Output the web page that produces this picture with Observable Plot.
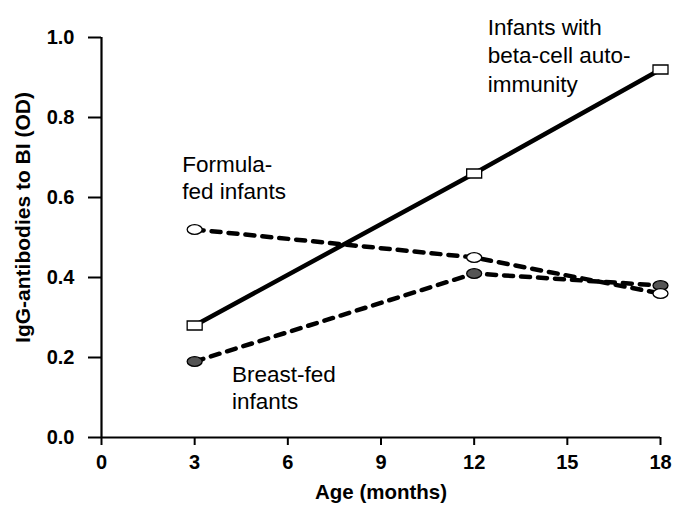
<!DOCTYPE html>
<html>
<head>
<meta charset="utf-8">
<script src="https://cdn.jsdelivr.net/npm/d3@7"></script>
<script src="https://cdn.jsdelivr.net/npm/@observablehq/plot@0.6"></script>
<style>
  html, body { margin: 0; padding: 0; background: #fff; }
  #chart svg { display: block; }
</style>
</head>
<body>
<div id="chart"></div>
<script>
// ---- data ----
const months = [3, 12, 18];
const autoimmunity = [0.28, 0.66, 0.92];
const formulaFed = [0.52, 0.45, 0.36];
const breastFed = [0.19, 0.41, 0.38];
const xTicks = [0, 3, 6, 9, 12, 15, 18];
const yTicks = [0, 0.2, 0.4, 0.6, 0.8, 1.0];
const xTitle = "Age (months)";
const yTitle = "IgG-antibodies to BI (OD)";
const labelAuto = "Infants with\nbeta-cell auto-\nimmunity";
const labelFormula = "Formula-\nfed infants";
const labelBreast = "Breast-fed\ninfants";

const rows = (vals) => months.map((m, i) => ({month: m, value: vals[i]}));
const autoRows = rows(autoimmunity);
const formulaRows = rows(formulaFed);
const breastRows = rows(breastFed);

// ---- custom symbols ----
const rectSymbol = { draw(ctx) { ctx.rect(-7.5, -4.5, 15, 9); } };
const ellipseSymbol = { draw(ctx) {
  const rx = 7.5, ry = 4.8, k = 0.5523;
  ctx.moveTo(rx, 0);
  ctx.bezierCurveTo(rx, ry * k, rx * k, ry, 0, ry);
  ctx.bezierCurveTo(-rx * k, ry, -rx, ry * k, -rx, 0);
  ctx.bezierCurveTo(-rx, -ry * k, -rx * k, -ry, 0, -ry);
  ctx.bezierCurveTo(rx * k, -ry, rx, -ry * k, rx, 0);
  ctx.closePath();
} };

const font = "'Liberation Sans', Arial, Helvetica, sans-serif";

const chart = Plot.plot({
  width: 684,
  height: 511,
  marginLeft: 101,
  marginRight: 24,
  marginTop: 37,
  marginBottom: 74,
  style: { fontFamily: font, background: "#fff", color: "#000" },
  x: { domain: [0, 18] },
  y: { domain: [0, 1] },
  marks: [
    Plot.axisX({ticks: xTicks, tickSize: 8, tickPadding: 9, strokeWidth: 2, fontSize: 20, fontWeight: "bold", label: null, tickFormat: d3.format("d")}),
    Plot.axisY({ticks: yTicks, tickSize: 13, tickPadding: 14, strokeWidth: 2, fontSize: 20, fontWeight: "bold", label: null, tickFormat: d3.format(".1f")}),
    Plot.ruleY([0], {x1: 0, x2: 18, strokeWidth: 2.2}),
    Plot.ruleX([0], {y1: 0, y2: 1, strokeWidth: 2.2}),
    // lines
    Plot.line(formulaRows, {x: "month", y: "value", stroke: "#000", strokeWidth: 4.5, strokeDasharray: "9,8", strokeLinecap: "round"}),
    Plot.line(breastRows, {x: "month", y: "value", stroke: "#000", strokeWidth: 4.5, strokeDasharray: "9,8", strokeLinecap: "round"}),
    Plot.line(autoRows, {x: "month", y: "value", stroke: "#000", strokeWidth: 4.5}),
    // markers
    Plot.dot(breastRows, {x: "month", y: "value", symbol: ellipseSymbol, fill: "#555", stroke: "#000", strokeWidth: 1.3}),
    Plot.dot(formulaRows, {x: "month", y: "value", symbol: ellipseSymbol, fill: "#fff", stroke: "#000", strokeWidth: 1.3}),
    Plot.dot(autoRows, {x: "month", y: "value", symbol: rectSymbol, fill: "#fff", stroke: "#000", strokeWidth: 1.3}),
    // annotations
    Plot.text([labelAuto], {x: 12.44, y: 1.057, text: d => d, textAnchor: "start", lineAnchor: "top", lineHeight: 1.26, fontSize: 22.5, fill: "#000"}),
    Plot.text([labelFormula], {x: 2.6, y: 0.712, text: d => d, textAnchor: "start", lineAnchor: "top", lineHeight: 1.2, fontSize: 22.5, fill: "#000"}),
    Plot.text([labelBreast], {x: 4.2, y: 0.187, text: d => d, textAnchor: "start", lineAnchor: "top", lineHeight: 1.2, fontSize: 22.5, fill: "#000"}),
    // axis titles
    Plot.text([xTitle], {frameAnchor: "bottom", text: d => d, dy: 61, fontSize: 20.5, fontWeight: "bold", fill: "#000"}),
    Plot.text([yTitle], {frameAnchor: "left", textAnchor: "middle", text: d => d, dx: -78, dy: -20, rotate: -90, fontSize: 21, fontWeight: "bold", fill: "#000"})
  ]
});
document.getElementById("chart").appendChild(chart);
</script>
</body>
</html>
